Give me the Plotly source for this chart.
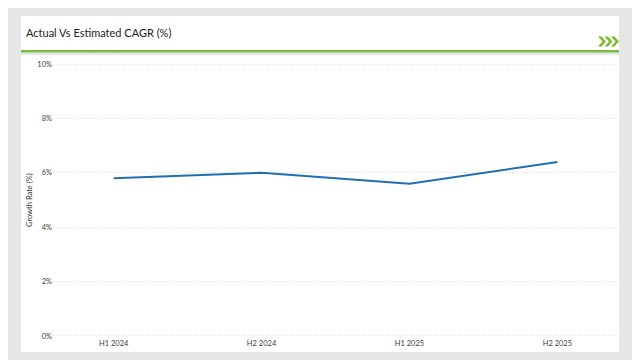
import plotly.graph_objects as go

categories = ["H1 2024", "H2 2024", "H1 2025", "H2 2025"]
growth_rate = [5.8, 6.0, 5.6, 6.4]
y_ticks = [0, 2, 4, 6, 8, 10]
y_tick_labels = ["0%", "2%", "4%", "6%", "8%", "10%"]

# page has an 8px body margin, so figure coords = screen coords - 8
W, H = 627, 352
L, R, T, B = 45, 17, 55, 23
PW, PH = W - L - R, H - T - B
OFF = 8


def px(x):
    return (x - OFF - L) / PW


def py(y):
    return (H - B - (y - OFF)) / PH


FONT = "Lato, 'Open Sans', sans-serif"

fig = go.Figure()
fig.add_trace(go.Scatter(
    x=categories, y=growth_rate, mode="lines",
    line=dict(color="#1f6fb2", width=2),
    hoverinfo="skip", showlegend=False,
))

shapes = []
shapes.append(dict(type="rect", xref="paper", yref="paper",
                   x0=px(21), x1=px(619), y0=py(50), y1=py(16),
                   fillcolor="white", line=dict(width=0), layer="below"))
shapes.append(dict(type="rect", xref="paper", yref="paper",
                   x0=px(21), x1=px(619), y0=py(52.5), y1=py(50),
                   fillcolor="#7dbb42", line=dict(width=0), layer="below"))
shapes.append(dict(type="rect", xref="paper", yref="paper",
                   x0=px(21), x1=px(619), y0=py(352), y1=py(55),
                   fillcolor="white", line=dict(width=0), layer="below"))
for i in range(3):
    x0 = 598 + i * 6.5
    pts = [(x0, 36.5), (x0 + 3.5, 36.5), (x0 + 8, 41.5), (x0 + 3.5, 46.5),
           (x0, 46.5), (x0 + 4.5, 41.5)]
    path = "M " + " L ".join(f"{px(a):.5f},{py(b):.5f}" for a, b in pts) + " Z"
    shapes.append(dict(type="path", xref="paper", yref="paper", path=path,
                       fillcolor="#7cb82f", line=dict(width=0)))

annotations = [
    dict(text="Actual Vs Estimated CAGR (%)", xref="paper", yref="paper",
         x=px(24), y=py(32), xanchor="left", yanchor="middle", showarrow=False,
         font=dict(family=FONT, size=11, color="#222222")),
    dict(text="Growth Rate (%)", xref="paper", yref="paper",
         x=px(29), y=py(200), xanchor="center", yanchor="middle", showarrow=False,
         textangle=-90, font=dict(family=FONT, size=7.5, color="#333333")),
]

fig.update_layout(
    width=W, height=H,
    margin=dict(l=L, r=R, t=T, b=B, pad=0),
    paper_bgcolor="#e6e6e6", plot_bgcolor="rgba(0,0,0,0)",
    shapes=shapes, annotations=annotations,
    font=dict(family=FONT, size=7.5, color="#404040"),
    xaxis=dict(range=[-0.41, 3.41], showgrid=False, zeroline=False, showline=False,
               ticks="", tickfont=dict(size=7.5, color="#404040")),
    yaxis=dict(range=[-0.04, 10.04], tickvals=y_ticks, ticktext=y_tick_labels,
               showgrid=True, gridcolor="#d9d9d9", griddash="1px,2px", gridwidth=1,
               zeroline=False, showline=False, ticks="",
               tickfont=dict(size=7.5, color="#404040")),
)

fig.write_html("out.html")
